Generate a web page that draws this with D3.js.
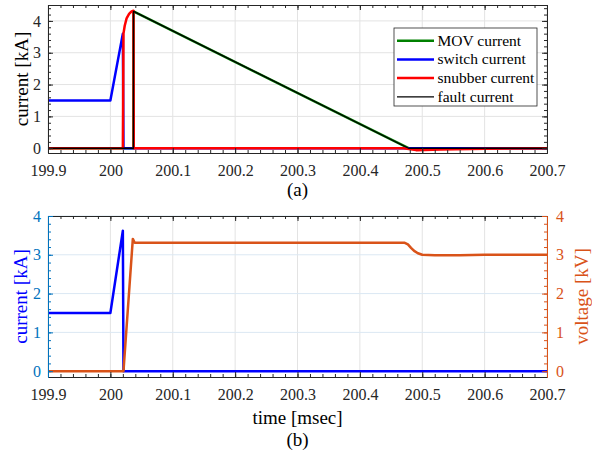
<!DOCTYPE html>
<html>
<head>
<meta charset="utf-8">
<script src="https://cdn.jsdelivr.net/npm/d3@7/dist/d3.min.js"></script>
<style>
  html, body { margin: 0; padding: 0; background: #fff; }
  svg { display: block; }
  svg text { font-family: "Liberation Serif", "Times New Roman", serif !important; }
</style>
</head>
<body>
<svg id="chart" width="592" height="452" font-family="Liberation Serif, serif"></svg>
<script>
// ---------- data ----------
const xTicks = [199.9, 200.0, 200.1, 200.2, 200.3, 200.4, 200.5, 200.6, 200.7];
const xTickLabels = ["199.9", "200", "200.1", "200.2", "200.3", "200.4", "200.5", "200.6", "200.7"];
const yTicksTop = [0, 1, 2, 3, 4];
const yTicksBottom = [0, 1, 2, 3, 4];

// (a) currents [kA] vs time [msec]
const movT = [199.9, 200.037, 200.0371, 200.478, 200.49, 200.7];
const movI = [0, 0, 4.3, 0, 0, 0];
const switchT = [199.9, 200.0, 200.02, 200.021, 200.7];
const switchI = [1.5, 1.5, 3.6, 0, 0];
const snubberT = [199.9, 200.02, 200.021, 200.023, 200.026, 200.03, 200.034, 200.037, 200.0375, 200.47, 200.49, 200.53, 200.6, 200.7];
const snubberI = [0, 0, 3.6, 3.85, 4.08, 4.22, 4.3, 4.32, 0, 0, -0.06, -0.04, -0.02, 0];
const faultT = [199.9, 200.037, 200.0371, 200.478, 200.49, 200.7];
const faultI = [0, 0, 4.3, 0, 0, 0];

// (b) switch current [kA] and voltage [kV]
const curT = [199.9, 200.0, 200.02, 200.021, 200.7];
const curI = [1.5, 1.5, 3.62, 0, 0];
const voltT = [199.9, 200.021, 200.036, 200.039, 200.472, 200.477, 200.482, 200.487, 200.493, 200.5, 200.52, 200.56, 200.6, 200.7];
const voltV = [0, 0, 3.41, 3.31, 3.31, 3.27, 3.18, 3.1, 3.04, 3.0, 2.99, 2.99, 3.0, 3.0];

const legendNames = ["MOV current", "switch current", "snubber current", "fault current"];
const legendColors = ["#008000", "#0000ff", "#ff0000", "#000000"];
const legendWidths = [2.5, 2.5, 2.5, 1.3];

// ---------- layout ----------
const svg = d3.select("#chart");
const FONT = "Liberation Serif, Times New Roman, serif";
const X0 = 48, X1 = 547;
const pa = { y0: 5, y1: 153 };
const pb = { y0: 216, y1: 377 };
const axisCol = "#262626";
const gridCol = "#e3e3e3";
const blueAx = "#0072BD";
const orange = "#D95319";

const x = d3.scaleLinear().domain([199.9, 200.7]).range([X0, X1]);
const yTop = d3.scaleLinear().domain([-0.15, 4.5]).range([pa.y1, pa.y0]);
const yBot = d3.scaleLinear().domain([-0.15, 4]).range([pb.y1, pb.y0]);

const xMinor = d3.range(0, 41).map(i => 199.9 + i * 0.02);
const yMinorTop = d3.range(0, 23).map(i => i * 0.2);
const yMinorBot = d3.range(0, 21).map(i => i * 0.2);

function styleAxis(g, col) {
  g.attr("font-family", FONT).attr("font-size", 16);
  g.selectAll("path").attr("stroke", col).attr("stroke-width", 1);
  g.selectAll("line").attr("stroke", col).attr("stroke-width", 1);
  g.selectAll("text").attr("fill", col).attr("font-family", FONT).attr("font-size", 16);
}

function xAxes(y0, y1) {
  const b = svg.append("g").attr("transform", `translate(0,${y1})`)
    .call(d3.axisBottom(x).tickValues(xTicks).tickSize(-5).tickSizeOuter(0).tickPadding(12)
      .tickFormat((d, i) => xTickLabels[i]));
  styleAxis(b, axisCol);
  const bm = svg.append("g").attr("transform", `translate(0,${y1})`)
    .call(d3.axisBottom(x).tickValues(xMinor).tickSize(-3).tickSizeOuter(0).tickFormat(""));
  styleAxis(bm, axisCol);
  const t = svg.append("g").attr("transform", `translate(0,${y0})`)
    .call(d3.axisTop(x).tickValues(xTicks).tickSize(-5).tickSizeOuter(0).tickFormat(""));
  styleAxis(t, axisCol);
  const tm = svg.append("g").attr("transform", `translate(0,${y0})`)
    .call(d3.axisTop(x).tickValues(xMinor).tickSize(-3).tickSizeOuter(0).tickFormat(""));
  styleAxis(tm, axisCol);
}

function yAxes(yScale, yT, yMinor, leftCol, rightCol, rightLabels) {
  const l = svg.append("g").attr("transform", `translate(${X0},0)`)
    .call(d3.axisLeft(yScale).tickValues(yT).tickSize(-5).tickSizeOuter(0).tickPadding(7).tickFormat(d3.format("d")));
  styleAxis(l, leftCol);
  const lm = svg.append("g").attr("transform", `translate(${X0},0)`)
    .call(d3.axisLeft(yScale).tickValues(yMinor).tickSize(-3).tickSizeOuter(0).tickFormat(""));
  styleAxis(lm, leftCol);
  const r = svg.append("g").attr("transform", `translate(${X1},0)`)
    .call(d3.axisRight(yScale).tickValues(yT).tickSize(-5).tickSizeOuter(0).tickPadding(9)
      .tickFormat(rightLabels ? d3.format("d") : ""));
  styleAxis(r, rightCol);
  const rm = svg.append("g").attr("transform", `translate(${X1},0)`)
    .call(d3.axisRight(yScale).tickValues(yMinor).tickSize(-3).tickSizeOuter(0).tickFormat(""));
  styleAxis(rm, rightCol);
}

function drawLine(T, V, yScale, col, w, clipId) {
  const pts = T.map((t, i) => [t, V[i]]);
  svg.append("path").datum(pts)
    .attr("clip-path", `url(#${clipId})`)
    .attr("fill", "none").attr("stroke", col).attr("stroke-width", w)
    .attr("stroke-linejoin", "round")
    .attr("d", d3.line().x(d => x(d[0])).y(d => yScale(d[1])));
}

function label(txt, xp, yp, rot, col) {
  const t = svg.append("text").attr("text-anchor", "middle")
    .attr("font-family", FONT).attr("font-size", 19).attr("fill", col).text(txt);
  if (rot) t.attr("transform", `translate(${xp},${yp}) rotate(-90)`);
  else t.attr("x", xp).attr("y", yp);
}

const defs = svg.append("defs");
defs.append("clipPath").attr("id", "clipA").append("rect")
  .attr("x", X0).attr("y", pa.y0).attr("width", X1 - X0).attr("height", pa.y1 - pa.y0);
defs.append("clipPath").attr("id", "clipB").append("rect")
  .attr("x", X0).attr("y", pb.y0).attr("width", X1 - X0).attr("height", pb.y1 - pb.y0);

// ---------- plot (a) ----------
const ga = svg.append("g");
ga.selectAll("line.v").data(xTicks).enter().append("line").attr("class", "v")
  .attr("x1", d => x(d)).attr("x2", d => x(d)).attr("y1", pa.y0).attr("y2", pa.y1)
  .attr("stroke", gridCol);
ga.selectAll("line.h").data(yTicksTop).enter().append("line").attr("class", "h")
  .attr("x1", X0).attr("x2", X1).attr("y1", d => yTop(d)).attr("y2", d => yTop(d))
  .attr("stroke", gridCol);
drawLine(movT, movI, yTop, legendColors[0], legendWidths[0], "clipA");
drawLine(switchT, switchI, yTop, legendColors[1], legendWidths[1], "clipA");
drawLine(snubberT, snubberI, yTop, legendColors[2], legendWidths[2], "clipA");
drawLine(faultT, faultI, yTop, legendColors[3], legendWidths[3], "clipA");
xAxes(pa.y0, pa.y1);
yAxes(yTop, yTicksTop, yMinorTop, axisCol, axisCol, false);

label("current [kA]", 27.5, (pa.y0 + pa.y1) / 2, true, "#000");
label("(a)", (X0 + X1) / 2, 196, false, "#000");

// legend
const lg = svg.append("g");
lg.append("rect").attr("x", 394).attr("y", 28).attr("width", 143).attr("height", 78)
  .attr("fill", "#fff").attr("stroke", axisCol).attr("stroke-width", 0.8);
legendNames.forEach((name, i) => {
  const cy = 40.7 + i * 18.7;
  lg.append("line").attr("x1", 397).attr("x2", 434).attr("y1", cy).attr("y2", cy)
    .attr("stroke", legendColors[i]).attr("stroke-width", legendWidths[i]);
  lg.append("text").attr("x", 437.5).attr("y", cy + 5)
    .attr("font-family", FONT).attr("font-size", 15.5)
    .attr("fill", "#000").text(name);
});

// ---------- plot (b) ----------
const gb = svg.append("g");
gb.selectAll("line.v").data(xTicks).enter().append("line").attr("class", "v")
  .attr("x1", d => x(d)).attr("x2", d => x(d)).attr("y1", pb.y0).attr("y2", pb.y1)
  .attr("stroke", gridCol);
gb.selectAll("line.h").data(yTicksBottom).enter().append("line").attr("class", "h")
  .attr("x1", X0).attr("x2", X1).attr("y1", d => yBot(d)).attr("y2", d => yBot(d))
  .attr("stroke", "#dbe8f3");
drawLine(curT, curI, yBot, "#0000ff", 2.5, "clipB");
drawLine(voltT, voltV, yBot, orange, 2.5, "clipB");
xAxes(pb.y0, pb.y1);
yAxes(yBot, yTicksBottom, yMinorBot, blueAx, orange, true);

label("current [kA]", 26.5, (pb.y0 + pb.y1) / 2, true, "#0000ff");
label("voltage [kV]", 588, (pb.y0 + pb.y1) / 2, true, orange);
label("time [msec]", (X0 + X1) / 2, 424, false, "#000");
label("(b)", (X0 + X1) / 2, 446, false, "#000");
</script>
</body>
</html>
